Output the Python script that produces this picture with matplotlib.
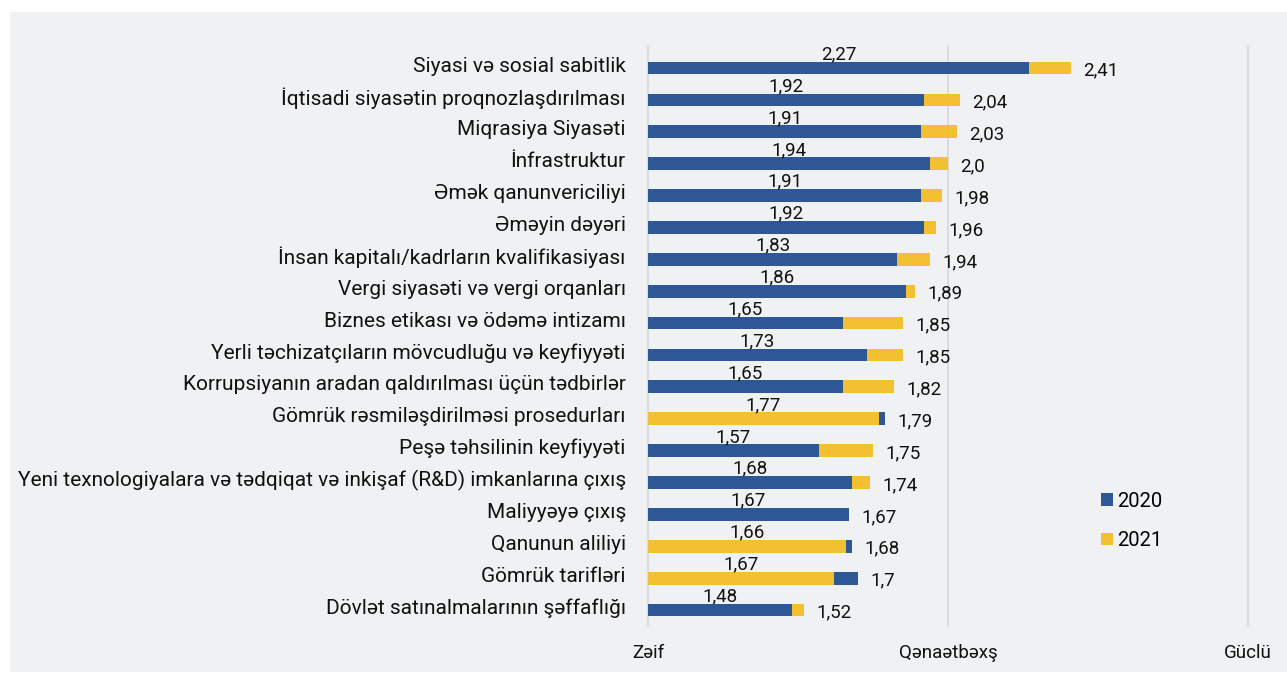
import numpy as np
import matplotlib.pyplot as plt
from matplotlib.patches import Rectangle, Patch
from matplotlib.transforms import ScaledTranslation

plt.rcParams['font.family'] = ['Roboto', 'DejaVu Sans']

categories = [
    'Siyasi və sosial sabitlik',
    'İqtisadi siyasətin proqnozlaşdırılması',
    'Miqrasiya Siyasəti',
    'İnfrastruktur',
    'Əmək qanunvericiliyi',
    'Əməyin dəyəri',
    'İnsan kapitalı/kadrların kvalifikasiyası',
    'Vergi siyasəti və vergi orqanları',
    'Biznes etikası və ödəmə intizamı',
    'Yerli təchizatçıların mövcudluğu və keyfiyyəti',
    'Korrupsiyanın aradan qaldırılması üçün tədbirlər',
    'Gömrük rəsmiləşdirilməsi prosedurları',
    'Peşə təhsilinin keyfiyyəti',
    'Yeni texnologiyalara və tədqiqat və inkişaf (R&D) imkanlarına çıxış',
    'Maliyyəyə çıxış',
    'Qanunun aliliyi',
    'Gömrük tarifləri',
    'Dövlət satınalmalarının şəffaflığı',
]
v2020 = [2.27, 1.92, 1.91, 1.94, 1.91, 1.92, 1.83, 1.86, 1.65, 1.73, 1.65,
         1.79, 1.57, 1.68, 1.67, 1.68, 1.70, 1.48]
v2021 = [2.41, 2.04, 2.03, 2.00, 1.98, 1.96, 1.94, 1.89, 1.85, 1.85, 1.82,
         1.77, 1.75, 1.74, 1.67, 1.66, 1.62, 1.52]
# value labels as printed on the chart (smaller one above, larger one at the right)
label_low = ['2,27', '1,92', '1,91', '1,94', '1,91', '1,92', '1,83', '1,86', '1,65',
             '1,73', '1,65', '1,77', '1,57', '1,68', '1,67', '1,66', '1,67', '1,48']
label_high = ['2,41', '2,04', '2,03', '2,0', '1,98', '1,96', '1,94', '1,89', '1,85',
              '1,85', '1,82', '1,79', '1,75', '1,74', '1,67', '1,68', '1,7', '1,52']
scale_ticks = [1, 2, 3]
scale_labels = ['Zəif', 'Qənaətbəxş', 'Güclü']

blue = '#2e5895'
yellow = '#f3c032'
panel = '#f0f1f3'

v2020 = np.array(v2020)
v2021 = np.array(v2021)
y = np.arange(len(categories))
hi = np.maximum(v2020, v2021)
lo = np.minimum(v2020, v2021)
hi_col = [yellow if b >= a else blue for a, b in zip(v2020, v2021)]
lo_col = [blue if b >= a else yellow for a, b in zip(v2020, v2021)]

fig = plt.figure(figsize=(12.87, 6.77), dpi=100)
fig.patch.set_facecolor('white')
bg = Rectangle((10 / 1287, 1 - 672 / 677), 1 - 10 / 1287, (672 - 12) / 677,
               transform=fig.transFigure, facecolor=panel, edgecolor='none', zorder=-10)
fig.add_artist(bg)

ax = fig.add_axes([648 / 1287, 1 - 626 / 677, 600 / 1287, (626 - 45.7) / 677])
ax.set_facecolor('none')
h = 0.4
ax.barh(y, hi - 1, left=1, height=h, color=hi_col, zorder=3)
ax.barh(y, lo - 1, left=1, height=h, color=lo_col, zorder=4)

for i in range(len(categories)):
    ax.text((1 + lo[i]) / 2, y[i] - 0.43, label_low[i], ha='center', va='center',
            fontsize=13.5, color='#111111', zorder=5)
    ax.text(hi[i] + 0.04, y[i] + 0.08, label_high[i], ha='left', va='center',
            fontsize=13.5, color='#111111', zorder=5)

ax.set_xlim(1, 3)
ax.set_ylim(17.5, -0.7)
ax.set_yticks(y)
ax.set_yticklabels(categories, fontsize=15, color='#111111')
ax.tick_params(axis='y', length=0, pad=16)
up = ScaledTranslation(0, 4 / 100, fig.dpi_scale_trans)
for lbl in ax.get_yticklabels():
    lbl.set_transform(lbl.get_transform() + up)
ax.set_xticks(scale_ticks)
ax.set_xticklabels(scale_labels, fontsize=13.5, color='#111111')
ax.tick_params(axis='x', length=0, pad=13)
for t in scale_ticks:
    ax.axvline(t, color='#d6d7da', lw=1.2, zorder=1, clip_on=False)
for s in ax.spines.values():
    s.set_visible(False)

handles = [Patch(facecolor=blue, label='2020'), Patch(facecolor=yellow, label='2021')]
fig.legend(handles=handles, loc='center left', bbox_to_anchor=(1083 / 1287, 1 - 521 / 677),
           frameon=False, fontsize=14.5, handlelength=0.6, handleheight=0.6,
           handletextpad=0.2, labelspacing=1.0)

fig.savefig('out.png', dpi=100)
